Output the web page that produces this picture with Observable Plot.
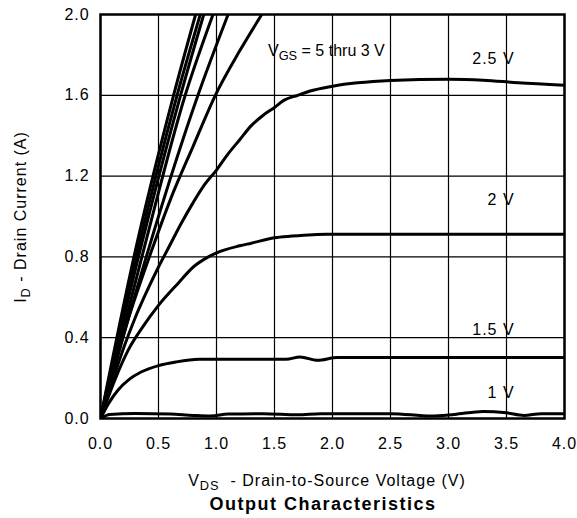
<!DOCTYPE html>
<html><head><meta charset="utf-8">
<script src="https://cdn.jsdelivr.net/npm/d3@7"></script>
<script src="https://cdn.jsdelivr.net/npm/@observablehq/plot@0.6"></script>
<style>
body{margin:0;background:#fff}
svg{font-family:"Liberation Sans",Arial,Helvetica,sans-serif}
.tk text{letter-spacing:0.9px}
.clbl text{letter-spacing:1px}
</style>
</head><body><div id="chart"></div>
<script>
// Tick values
const xTicks = [0, 0.5, 1.0, 1.5, 2.0, 2.5, 3.0, 3.5, 4.0];
const yTicks = [0, 0.4, 0.8, 1.2, 1.6, 2.0];

// Curve names
const curveNames = ["5V-a", "5V-b", "5V-c", "5V-d", "5V-e", "3V", "2.5V", "2V", "1.5V", "1V"];

// VGS = 5 thru 3 V (steep curves)
const vds_a = [0, 0.30, 0.63, 0.82];
const id_a  = [0, 0.83, 1.60, 2.00];
const vds_b = [0, 0.32, 0.66, 0.86];
const id_b  = [0, 0.83, 1.60, 2.00];
const vds_c = [0, 0.34, 0.69, 0.89];
const id_c  = [0, 0.83, 1.60, 2.00];
const vds_d = [0, 0.37, 0.73, 0.97];
const id_d  = [0, 0.83, 1.60, 2.00];
const vds_e = [0, 0.41, 0.84, 1.10];
const id_e  = [0, 0.83, 1.60, 2.00];
const vds_3 = [0, 0.20, 0.44, 0.60, 0.80, 0.99, 1.20, 1.39];
const id_3  = [0, 0.42, 0.83, 1.08, 1.35, 1.60, 1.82, 2.00];

// VGS = 2.5 V
const vds_25 = [0, 0.1, 0.2, 0.3, 0.4, 0.5, 0.6, 0.7, 0.8, 0.9, 1.0, 1.1, 1.2, 1.3, 1.4, 1.5, 1.58, 1.7, 1.8, 2.0, 2.5, 3.0, 3.3, 3.6, 4.0];
const id_25  = [0, 0.18, 0.35, 0.50, 0.63, 0.75, 0.86, 0.97, 1.07, 1.16, 1.23, 1.31, 1.38, 1.45, 1.50, 1.54, 1.575, 1.60, 1.62, 1.645, 1.673, 1.68, 1.675, 1.662, 1.65];

// VGS = 2 V
const vds_2 = [0, 0.13, 0.24, 0.36, 0.5, 0.67, 0.8, 0.93, 1.0, 1.2, 1.3, 1.5, 1.65, 1.83, 1.95, 4.0];
const id_2  = [0, 0.20, 0.34, 0.45, 0.56, 0.67, 0.75, 0.80, 0.82, 0.855, 0.868, 0.895, 0.903, 0.91, 0.912, 0.912];

// VGS = 1.5 V
const vds_15 = [0, 0.07, 0.15, 0.25, 0.35, 0.5, 0.65, 0.85, 1.2, 1.6, 1.72, 1.87, 2.04, 4.0];
const id_15  = [0, 0.075, 0.14, 0.195, 0.23, 0.262, 0.28, 0.293, 0.293, 0.293, 0.305, 0.288, 0.302, 0.302];

// VGS = 1 V
const vds_1 = [0, 0.08, 0.3, 0.6, 0.8, 0.95, 1.1, 1.4, 1.7, 1.9, 2.5, 2.85, 3.05, 3.3, 3.5, 3.65, 3.8, 4.0];
const id_1  = [0, 0.02, 0.025, 0.022, 0.015, 0.012, 0.022, 0.024, 0.018, 0.024, 0.024, 0.012, 0.02, 0.035, 0.028, 0.015, 0.024, 0.024];

// Curve labels
const labelText = ["2.5 V", "2 V", "1.5 V", "1 V"];
const labelVds  = [3.57, 3.57, 3.57, 3.57];
const labelId   = [1.778, 1.084, 0.441, 0.126];

const series = [
  [vds_a, id_a], [vds_b, id_b], [vds_c, id_c], [vds_d, id_d], [vds_e, id_e],
  [vds_3, id_3], [vds_25, id_25], [vds_2, id_2], [vds_15, id_15], [vds_1, id_1]
];
const rows = series.flatMap(([xs, ys], k) => xs.map((v, j) => ({name: curveNames[k], v, i: ys[j]})));
const labels = labelText.map((t, k) => ({t, v: labelVds[k], i: labelId[k]}));

const fmt = d => d.toFixed(1);
const plot = Plot.plot({
  width: 577, height: 518,
  marginLeft: 100, marginRight: 13, marginTop: 14, marginBottom: 100,
  style: {fontSize: "16px", fontFamily: '"Liberation Sans",Arial,Helvetica,sans-serif', color: "#000", background: "#fff"},
  x: {domain: [0, 4], label: null},
  y: {domain: [0, 2], label: null},
  marks: [
    Plot.gridX(xTicks, {stroke: "#000", strokeOpacity: 1, strokeWidth: 1.2}),
    Plot.gridY(yTicks, {stroke: "#000", strokeOpacity: 1, strokeWidth: 1.2}),
    Plot.axisX(xTicks, {tickSize: 0, tickPadding: 19, tickFormat: fmt, label: null, fontSize: 16, className: "tk"}),
    Plot.axisY(yTicks, {tickSize: 0, tickPadding: 11, tickFormat: fmt, label: null, fontSize: 16, className: "tk"}),
    Plot.line(rows, {x: "v", y: "i", z: "name", stroke: "#000", strokeWidth: 3, curve: "monotone-x", clip: true}),
    Plot.frame({stroke: "#000", strokeWidth: 2.5}),
    Plot.text(labels, {x: "v", y: "i", text: "t", textAnchor: "end", fontSize: 16, fill: "#000", className: "clbl"})
  ]
});
document.getElementById("chart").appendChild(plot);

const svg = d3.select(plot);
const sx = plot.scale("x"), sy = plot.scale("y");

function subText(g, x, y, parts, opts = {}) {
  const size = opts.size || 16;
  const t = g.append("text").attr("x", x).attr("y", y)
    .attr("fill", "#000").attr("font-size", size)
    .attr("text-anchor", opts.anchor || "start")
    .style("letter-spacing", (opts.ls || 0) + "px");
  if (opts.bold) t.attr("font-weight", "bold");
  if (opts.rotate) t.attr("transform", `rotate(-90,${x},${y})`);
  let prevSub = false;
  parts.forEach(([s, sub]) => {
    const ts = t.append("tspan").text(s);
    if (sub) { ts.attr("font-size", size * 0.8).attr("dy", 4); prevSub = true; }
    else if (prevSub) { ts.attr("dy", -4); prevSub = false; }
  });
  return t;
}

// VGS annotation
subText(svg, sx.apply(1.448), sy.apply(1.79), [["V"], ["GS", true], [" = 5 thru 3 V"]], {size: 16});
// X axis title
subText(svg, 327, 486, [["V"], ["DS", true], ["\u00a0 - Drain-to-Source Voltage (V)"]], {anchor: "middle", size: 16, ls: 1});
// Chart title
subText(svg, 323, 510, [["Output Characteristics"]], {anchor: "middle", bold: true, size: 18, ls: 1.5});
// Y axis title
subText(svg, 26, 217, [["I"], ["D", true], [" - Drain Current (A)"]], {anchor: "middle", rotate: true, size: 16, ls: 1});
</script>
</body></html>
